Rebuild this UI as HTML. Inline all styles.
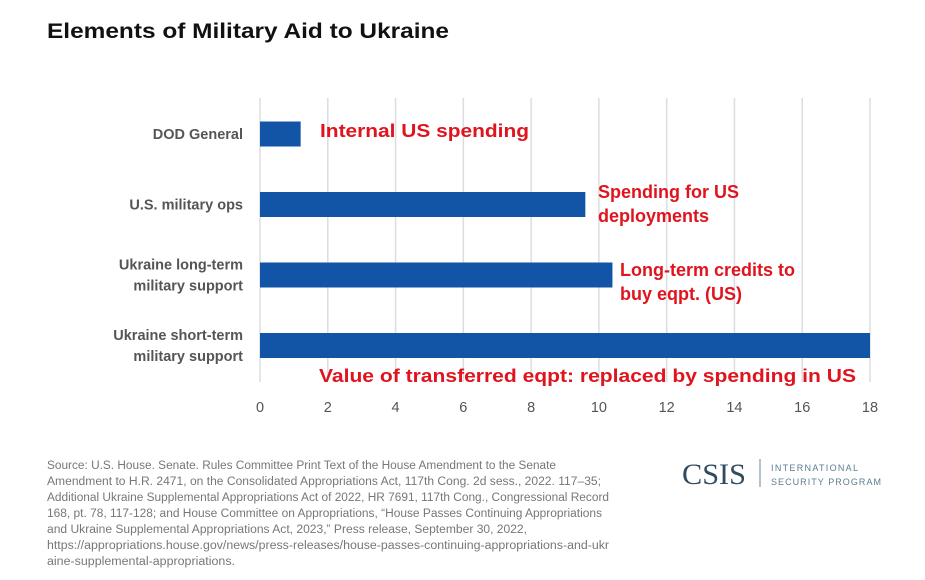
<!DOCTYPE html>
<html><head><meta charset="utf-8"><style>
html,body{margin:0;padding:0;background:#fff;}
svg{display:block;font-family:"Liberation Sans",sans-serif;}
</style></head><body>
<svg width="925" height="580" viewBox="0 0 925 580">
<text x="47" y="38" font-size="21" font-weight="bold" fill="#111" textLength="402" lengthAdjust="spacingAndGlyphs">Elements of Military Aid to Ukraine</text>
<g id="grid"></g>
<g id="bars"></g>
<g id="ticks"></g>
<g id="cats"></g>
<g font-weight="bold" font-size="18" fill="#e0141e">
<text x="320" y="137" textLength="209" lengthAdjust="spacingAndGlyphs">Internal US spending</text>
<text x="598" y="198"><tspan x="598">Spending for US</tspan><tspan x="598" y="222">deployments</tspan></text>
<text x="620" y="276"><tspan x="620">Long-term credits to</tspan><tspan x="620" y="300">buy eqpt. (US)</tspan></text>
<text x="319" y="382" textLength="537" lengthAdjust="spacingAndGlyphs">Value of transferred eqpt: replaced by spending in US</text>
</g>
<g font-size="11.5" fill="#777">
<text x="47" y="469" textLength="509" lengthAdjust="spacingAndGlyphs">Source: U.S. House. Senate. Rules Committee Print Text of the House Amendment to the Senate</text>
<text x="47" y="485" textLength="554" lengthAdjust="spacingAndGlyphs">Amendment to H.R. 2471, on the Consolidated Appropriations Act, 117th Cong. 2d sess., 2022. 117–35;</text>
<text x="47" y="501" textLength="562" lengthAdjust="spacingAndGlyphs">Additional Ukraine Supplemental Appropriations Act of 2022, HR 7691, 117th Cong., Congressional Record</text>
<text x="47" y="517" textLength="555" lengthAdjust="spacingAndGlyphs">168, pt. 78, 117-128; and House Committee on Appropriations, “House Passes Continuing Appropriations</text>
<text x="47" y="533" textLength="480" lengthAdjust="spacingAndGlyphs">and Ukraine Supplemental Appropriations Act, 2023,” Press release, September 30, 2022,</text>
<text x="47" y="549" textLength="562" lengthAdjust="spacingAndGlyphs">https://appropriations.house.gov/news/press-releases/house-passes-continuing-appropriations-and-ukr</text>
<text x="47" y="565" textLength="188" lengthAdjust="spacingAndGlyphs">aine-supplemental-appropriations.</text>
</g>
<g>
<text x="682" y="484" font-family="'Liberation Serif',serif" font-size="30" fill="#2f4c60" textLength="64" lengthAdjust="spacingAndGlyphs">CSIS</text>
<line x1="760" y1="459" x2="760" y2="487" stroke="#6b8596" stroke-width="1"/>
<text x="771" y="471" font-size="9" fill="#5c7d90" textLength="87">INTERNATIONAL</text>
<text x="771" y="485" font-size="9" fill="#5c7d90" textLength="110">SECURITY PROGRAM</text>
</g>
</svg>
<script>
const categories=["DOD General","U.S. military ops","Ukraine long-term|military support","Ukraine short-term|military support"];
const values=[1.2,9.6,10.4,18];
const ticks=[0,2,4,6,8,10,12,14,16,18];
const NS="http://www.w3.org/2000/svg";
const x0=260,x1=870,xmax=18;
const xs=v=>x0+(x1-x0)*v/xmax;
const rowY=i=>134+i*70.5;
function mk(t,a,p){const e=document.createElementNS(NS,t);for(const k in a)e.setAttribute(k,a[k]);p.appendChild(e);return e;}
const grid=document.getElementById('grid'),bars=document.getElementById('bars'),tk=document.getElementById('ticks'),cats=document.getElementById('cats');
ticks.forEach(t=>{
 const l=mk('line',{x1:xs(t),x2:xs(t),y1:98,y2:382,stroke:'#dcdde2','stroke-width':1.5},grid);
 
 
 const tx=mk('text',{x:xs(t),y:412,'text-anchor':'middle','font-size':14.5,fill:'#555'},tk);
 tx.textContent=t;
 
 
});
values.forEach((v,i)=>{
 const y=rowY(i);
 const r=mk('rect',{x:x0,y:y-12.5,width:xs(v)-x0,height:25,fill:'#1255a6'},bars);
 
 
 const lines=categories[i].split('|');
 const t=mk('text',{x:243,'text-anchor':'end','font-size':14.5,'font-weight':'bold',fill:'#555'},cats);
 
 
 lines.forEach((s,j)=>{const ts=mk('tspan',{x:243,y:y+5+(j-(lines.length-1)/2)*21},t);ts.textContent=s;});
});
</script>
</body></html>
